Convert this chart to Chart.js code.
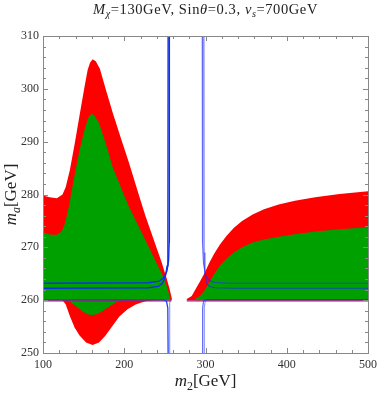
<!DOCTYPE html>
<html>
<head>
<meta charset="utf-8">
<script src="https://cdn.jsdelivr.net/npm/chart.js@4.4.0/dist/chart.umd.min.js"></script>
<style>
  html, body { margin: 0; padding: 0; background: #fff; }
</style>
</head>
<body>
<canvas id="chart" width="382" height="394"></canvas>
<script>
// ---- data (m2 in GeV, ma in GeV) ----
const xTicks = [100, 200, 300, 400, 500];
const yTicks = [250, 260, 270, 280, 290, 300, 310];
const xMinorStep = 20;
const yMinorStep = 2;

// left region, red (outer) band
const redLeftUpX = [100, 108, 117, 124, 128, 133, 139, 145, 151, 155, 158, 161, 165, 170, 177.5, 186, 196, 206, 216, 226, 236, 246, 252, 256, 258.5];
const redLeftUpY = [279.8, 279.5, 279.3, 280.0, 281.4, 284.6, 289.6, 295.0, 300.3, 303.6, 305.0, 305.6, 305.2, 303.8, 299.8, 295.4, 290.6, 285.9, 280.9, 276.0, 271.6, 267.2, 264.2, 262.0, 260.3];
const redLeftLowX = [100, 124, 128, 133, 139, 145, 153, 161, 169, 177, 185, 194, 204, 214, 226, 238, 258.5];
const redLeftLowY = [260, 260, 259.2, 257.0, 254.8, 253.3, 252.0, 251.5, 252.0, 253.3, 255.0, 256.9, 258.3, 259.2, 259.8, 260, 260];

// left region, green (inner) band
const greenLeftUpX = [100, 110, 117, 123, 127, 132, 138, 145, 151, 156, 159.5, 163, 169, 177, 185.5, 196, 206, 216, 226, 236, 246, 252, 256.5];
const greenLeftUpY = [272.8, 272.4, 272.4, 273.0, 274.5, 277.8, 283.0, 288.4, 292.2, 294.6, 295.3, 295.0, 293.5, 289.8, 285.3, 281.3, 277.6, 274.5, 271.4, 268.2, 265.1, 262.8, 260.3];
const greenLeftLowX = [100, 128, 134, 141, 149, 156, 161, 167, 174, 181.5, 190, 198, 256.5];
const greenLeftLowY = [260, 260, 259.6, 258.8, 257.8, 257.3, 257.2, 257.4, 258.0, 258.8, 259.6, 260, 260];

// right region
const redRightUpX = [277, 283, 287, 293, 299, 305, 311, 318, 326, 335, 345, 358, 372, 390, 410, 435, 465, 500];
const redRightUpY = [260.2, 260.8, 261.9, 263.5, 265.2, 267.2, 268.9, 270.6, 272.2, 273.7, 275.0, 276.2, 277.2, 278.1, 278.8, 279.5, 280.1, 280.6];
const redRightLowX = [277, 500];
const redRightLowY = [260, 260];
const greenRightUpX = [287, 293, 299, 305, 311, 318, 326, 335, 345, 358, 372, 390, 410, 435, 465, 500];
const greenRightUpY = [260.2, 260.8, 261.9, 263.5, 265.0, 266.6, 267.9, 269.0, 270.0, 270.9, 271.5, 272.0, 272.5, 273.0, 273.4, 273.8];
const greenRightLowX = [287, 500];
const greenRightLowY = [260, 260];

// blue contours
const blueL1X = [100, 230, 243, 249, 252.5, 254.6, 255.3, 255.5];
const blueL1Y = [263.2, 263.3, 263.6, 264.3, 265.5, 267.5, 271, 310];
const blueL2X = [100, 230, 242, 247, 250.5, 252.8, 253.7, 254];
const blueL2Y = [262.25, 262.35, 262.6, 263.2, 264.4, 266.5, 270, 310];
const blueL3X = [100, 248, 252, 253.6, 254.0];
const blueL3Y = [260.1, 260.1, 259.8, 258.5, 250];
const blueL4X = [255.6, 255.6, 256.3, 257.2];
const blueL4Y = [250, 258.8, 259.6, 259.9];
const blueR1X = [296, 296.3, 297.5, 300, 304, 311, 330, 500];
const blueR1Y = [310, 271, 267, 264.8, 263.8, 263.35, 263.2, 263.2];
const blueR2X = [298, 298.2, 299.3, 301.5, 305, 312, 335, 500];
const blueR2Y = [310, 269, 265, 263.2, 262.6, 262.35, 262.25, 262.25];
const blueR3X = [296.3, 296.5, 297.5, 300, 500];
const blueR3Y = [250, 258.5, 259.8, 260.1, 260.1];
const blueR4X = [298.3, 298.5, 299.5, 301.5];
const blueR4Y = [250, 258.6, 259.6, 259.95];

// magenta line
const magLeftX = [100, 258];
const magRightX = [277, 500];
const magY = 259.85;

function pts(xs, ys) {
  return xs.map((x, i) => ({ x: x, y: ys[i] }));
}

function polygon(upX, upY, loX, loY) {
  const p = pts(upX, upY);
  for (let i = loX.length - 1; i >= 0; i--) p.push({ x: loX[i], y: loY[i] });
  return p;
}

function area(data, color, order) {
  return { data: data, showLine: true, fill: 'shape', backgroundColor: color,
           borderColor: color, borderWidth: 0, pointRadius: 0, order: order };
}

function curve(data, color, width, order) {
  return { data: data, showLine: true, fill: false, borderColor: color,
           borderWidth: width, pointRadius: 0, order: order };
}

const SERIF = "'Liberation Serif', 'DejaVu Serif', serif";

// draws rich text pieces: [text, italic, sub]
function richText(ctx, pieces, size, x, y, align) {
  const widths = pieces.map(p => {
    ctx.font = (p[1] ? 'italic ' : '') + (p[2] ? size * 0.7 : size) + 'px ' + SERIF;
    return ctx.measureText(p[0]).width;
  });
  const total = widths.reduce((a, b) => a + b, 0);
  let cx = align === 'center' ? x - total / 2 : x;
  pieces.forEach((p, i) => {
    ctx.font = (p[1] ? 'italic ' : '') + (p[2] ? size * 0.7 : size) + 'px ' + SERIF;
    ctx.fillText(p[0], cx, p[2] ? y + size * 0.22 : y);
    cx += widths[i];
  });
}

const framePlugin = {
  id: 'frame',
  afterDatasetsDraw(chart) {
    const ctx = chart.ctx;
    const a = chart.chartArea;
    const xs = chart.scales.x, ys = chart.scales.y;
    ctx.save();
    ctx.strokeStyle = '#888';
    ctx.lineWidth = 1;
    ctx.strokeRect(Math.round(a.left) + 0.5, Math.round(a.top) + 0.5,
                   Math.round(a.right - a.left), Math.round(a.bottom - a.top));
    ctx.beginPath();
    for (let v = xs.min; v <= xs.max + 1e-6; v += xMinorStep) {
      const px = Math.round(xs.getPixelForValue(v)) + 0.5;
      const len = xTicks.includes(v) ? 5 : 3;
      ctx.moveTo(px, a.bottom); ctx.lineTo(px, a.bottom - len);
      ctx.moveTo(px, a.top); ctx.lineTo(px, a.top + len);
    }
    for (let v = ys.min; v <= ys.max + 1e-6; v += yMinorStep) {
      const py = Math.round(ys.getPixelForValue(v)) + 0.5;
      const len = yTicks.includes(Math.round(v)) && Math.abs(v - Math.round(v)) < 1e-6 ? 5 : 3;
      ctx.moveTo(a.left, py); ctx.lineTo(a.left + len, py);
      ctx.moveTo(a.right, py); ctx.lineTo(a.right - len, py);
    }
    ctx.stroke();
    ctx.restore();
  },
  afterDraw(chart) {
    const ctx = chart.ctx;
    const a = chart.chartArea;
    ctx.save();
    ctx.fillStyle = '#222';
    ctx.textBaseline = 'alphabetic';
    ctx.textAlign = 'left';
    ctx.letterSpacing = '0.6px';
    richText(ctx, [['M', true, false], ['\u03C7', true, true], ['=130GeV, Sin', false, false],
                   ['\u03B8', true, false], ['=0.3, ', false, false], ['v', true, false],
                   ['s', true, true], ['=700GeV', false, false]], 14.5, (a.left + a.right) / 2, 14, 'center');
    ctx.letterSpacing = '0px';
    richText(ctx, [['m', true, false], ['2', false, true], ['[GeV]', false, false]], 17, (a.left + a.right) / 2, 386, 'center');
    ctx.translate(16, (a.top + a.bottom) / 2);
    ctx.rotate(-Math.PI / 2);
    richText(ctx, [['m', true, false], ['a', true, true], ['[GeV]', false, false]], 17, 0, 0, 'center');
    ctx.restore();
  }
};

const ctx = document.getElementById('chart').getContext('2d');
new Chart(ctx, {
  type: 'scatter',
  data: {
    datasets: [
      curve(pts(blueL1X, blueL1Y), '#1030e8', 1.4, 0),
      curve(pts(blueL2X, blueL2Y), '#1030e8', 1.4, 0),
      curve(pts(blueL3X, blueL3Y), '#2040ff', 1.3, 0),
      curve(pts(blueL4X, blueL4Y), 'rgba(40,60,255,0.6)', 1, 0),
      curve(pts(blueR1X, blueR1Y), 'rgba(30,40,255,0.7)', 1.1, 0),
      curve(pts(blueR2X, blueR2Y), 'rgba(30,40,255,0.7)', 1.1, 0),
      curve(pts(blueR3X, blueR3Y), 'rgba(30,40,255,0.75)', 1.1, 0),
      curve(pts(blueR4X, blueR4Y), 'rgba(40,60,255,0.6)', 1, 0),
      curve(pts(magLeftX, magLeftX.map(() => magY)), '#b4106e', 1.3, 1),
      curve(pts(magRightX, magRightX.map(() => magY)), '#b4106e', 1.3, 1),
      area(polygon(greenLeftUpX, greenLeftUpY, greenLeftLowX, greenLeftLowY), '#00a000', 2),
      area(polygon(greenRightUpX, greenRightUpY, greenRightLowX, greenRightLowY), '#00a000', 2),
      area(polygon(redLeftUpX, redLeftUpY, redLeftLowX, redLeftLowY), '#ff0000', 3),
      area(polygon(redRightUpX, redRightUpY, redRightLowX, redRightLowY), '#ff0000', 3)
    ]
  },
  options: {
    responsive: false,
    animation: false,
    devicePixelRatio: 1,
    layout: { padding: { left: 0, right: 10, top: 36, bottom: 0 } },
    plugins: { legend: { display: false }, tooltip: { enabled: false } },
    scales: {
      x: {
        type: 'linear', min: 100, max: 500,
        grid: { display: false, drawTicks: false },
        border: { display: false },
        afterBuildTicks: s => { s.ticks = xTicks.map(v => ({ value: v })); },
        afterFit: s => { s.height = 41; },
        ticks: { padding: 5, color: '#333', maxRotation: 0, font: { family: SERIF, size: 12 } }
      },
      y: {
        type: 'linear', min: 250, max: 310,
        grid: { display: false, drawTicks: false },
        border: { display: false },
        afterBuildTicks: s => { s.ticks = yTicks.map(v => ({ value: v })); },
        afterFit: s => { s.width = 43; },
        ticks: { padding: 4, color: '#333', font: { family: SERIF, size: 12 } }
      }
    }
  },
  plugins: [framePlugin]
});
</script>
</body>
</html>
